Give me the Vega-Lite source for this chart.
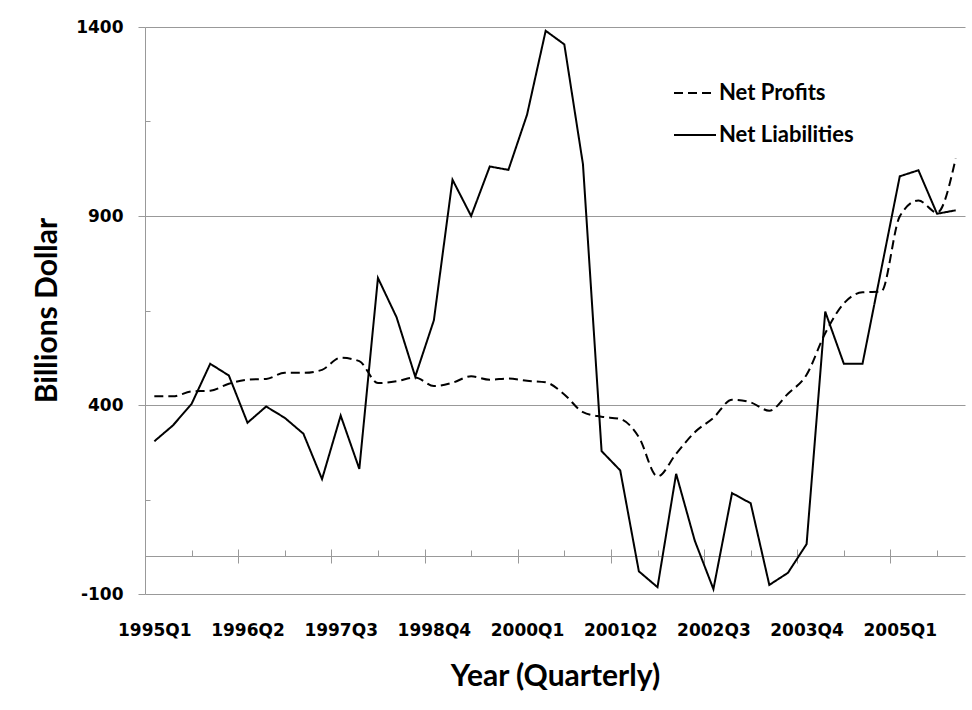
{
  "$schema": "https://vega.github.io/schema/vega-lite/v6.json",
  "width": 820,
  "height": 567,
  "autosize": {"type": "none"},
  "padding": {"left": 145, "top": 27, "right": 7, "bottom": 116},
  "background": "white",
  "config": {"view": {"stroke": null}, "font": "DejaVu Sans"},
  "data": {
    "values": [
      {"quarter": "1995Q1", "profits": 423, "liabilities": 304},
      {"quarter": "1995Q2", "profits": 423, "liabilities": 346},
      {"quarter": "1995Q3", "profits": 436, "liabilities": 403},
      {"quarter": "1995Q4", "profits": 438, "liabilities": 509},
      {"quarter": "1996Q1", "profits": 456, "liabilities": 478},
      {"quarter": "1996Q2", "profits": 467, "liabilities": 353},
      {"quarter": "1996Q3", "profits": 469, "liabilities": 396},
      {"quarter": "1996Q4", "profits": 485, "liabilities": 366},
      {"quarter": "1997Q1", "profits": 485, "liabilities": 324},
      {"quarter": "1997Q2", "profits": 493, "liabilities": 204},
      {"quarter": "1997Q3", "profits": 525, "liabilities": 372},
      {"quarter": "1997Q4", "profits": 516, "liabilities": 231},
      {"quarter": "1998Q1", "profits": 458, "liabilities": 736},
      {"quarter": "1998Q2", "profits": 463, "liabilities": 632},
      {"quarter": "1998Q3", "profits": 473, "liabilities": 475},
      {"quarter": "1998Q4", "profits": 450, "liabilities": 624},
      {"quarter": "1999Q1", "profits": 459, "liabilities": 996},
      {"quarter": "1999Q2", "profits": 476, "liabilities": 900},
      {"quarter": "1999Q3", "profits": 467, "liabilities": 1031},
      {"quarter": "1999Q4", "profits": 470, "liabilities": 1022},
      {"quarter": "2000Q1", "profits": 464, "liabilities": 1168},
      {"quarter": "2000Q2", "profits": 460, "liabilities": 1390},
      {"quarter": "2000Q3", "profits": 428, "liabilities": 1354},
      {"quarter": "2000Q4", "profits": 381, "liabilities": 1037},
      {"quarter": "2001Q1", "profits": 369, "liabilities": 278},
      {"quarter": "2001Q2", "profits": 363, "liabilities": 227},
      {"quarter": "2001Q3", "profits": 315, "liabilities": -40},
      {"quarter": "2001Q4", "profits": 211, "liabilities": -82},
      {"quarter": "2002Q1", "profits": 271, "liabilities": 218},
      {"quarter": "2002Q2", "profits": 328, "liabilities": 41},
      {"quarter": "2002Q3", "profits": 366, "liabilities": -87},
      {"quarter": "2002Q4", "profits": 414, "liabilities": 167},
      {"quarter": "2003Q1", "profits": 407, "liabilities": 140},
      {"quarter": "2003Q2", "profits": 385, "liabilities": -76},
      {"quarter": "2003Q3", "profits": 430, "liabilities": -44},
      {"quarter": "2003Q4", "profits": 480, "liabilities": 32},
      {"quarter": "2004Q1", "profits": 590, "liabilities": 647},
      {"quarter": "2004Q2", "profits": 669, "liabilities": 509},
      {"quarter": "2004Q3", "profits": 698, "liabilities": 509},
      {"quarter": "2004Q4", "profits": 700, "liabilities": 757},
      {"quarter": "2005Q1", "profits": 899, "liabilities": 1005},
      {"quarter": "2005Q2", "profits": 941, "liabilities": 1021},
      {"quarter": "2005Q3", "profits": 909, "liabilities": 906},
      {"quarter": "2005Q4", "profits": 1052, "liabilities": 915}
    ]
  },
  "layer": [
    {
      "mark": {"type": "line", "color": "black", "strokeWidth": 2},
      "encoding": {
        "x": {
          "field": "quarter",
          "type": "ordinal",
          "scale": {"type": "point", "padding": 0.5},
          "axis": {
            "orient": "bottom",
            "values": ["1995Q1", "1996Q2", "1997Q3", "1998Q4", "2000Q1", "2001Q2", "2002Q3", "2003Q4", "2005Q1"],
            "offset": -45,
            "tickSize": 14,
            "tickOffset": -9.318,
            "labelOffset": 9.318,
            "domain": false,
            "grid": false,
            "tickColor": "#999999",
            "tickWidth": 1,
            "labelFont": "DejaVu Sans",
            "labelFontWeight": "bold",
            "labelFontSize": 17,
            "labelColor": "black",
            "labelAngle": 0,
            "labelBaseline": "middle",
            "labelPadding": 67,
            "labelOverlap": false,
            "title": "Year (Quarterly)",
            "titleFont": "Lato",
            "titleFontSize": 30,
            "titleFontWeight": "bold",
            "titleColor": "black",
            "titleBaseline": "middle",
            "titleY": 127
          }
        },
        "y": {
          "field": "liabilities",
          "type": "quantitative",
          "scale": {"domain": [-100, 1400], "nice": false, "zero": false},
          "axis": {
            "orient": "left",
            "values": [-100, 0, 400, 900, 1400],
            "labelExpr": "datum.value === 0 ? '' : '' + datum.value",
            "tickSize": 7,
            "tickOpacity": {"condition": {"test": "datum.value === 0", "value": 0}, "value": 1},
            "grid": true,
            "gridColor": "#999999",
            "gridWidth": 1,
            "domainColor": "#999999",
            "domainWidth": 1,
            "tickColor": "#999999",
            "labelFont": "DejaVu Sans",
            "labelFontWeight": "bold",
            "labelFontSize": 17,
            "labelColor": "black",
            "labelPadding": 15,
            "title": "Billions Dollar",
            "titleFont": "Lato",
            "titleFontSize": 30,
            "titleFontWeight": "bold",
            "titleColor": "black",
            "titleAngle": 270,
            "titleBaseline": "middle",
            "titleX": -98,
            "titleY": 283
          }
        },
        "strokeDash": {
          "datum": "Net Liabilities",
          "type": "nominal",
          "scale": {"domain": ["Net Profits", "Net Liabilities"], "range": [[9, 5], [1, 0]]},
          "legend": {
            "title": null,
            "orient": "none",
            "legendX": 528,
            "legendY": 44,
            "symbolType": "stroke",
            "symbolSize": 1764,
            "symbolStrokeWidth": 2,
            "symbolStrokeColor": "black",
            "labelFont": "Lato",
            "labelFontSize": 22,
            "labelFontWeight": "bold",
            "labelColor": "black",
            "labelOffset": 2,
            "rowPadding": 9,
            "padding": 0
          }
        }
      }
    },
    {
      "mark": {"type": "line", "color": "black", "strokeWidth": 2, "interpolate": "monotone"},
      "encoding": {
        "x": {
          "field": "quarter",
          "type": "ordinal",
          "axis": {
            "orient": "bottom",
            "values": ["1995Q3", "1996Q4", "1998Q1", "1999Q2", "2000Q3", "2001Q4", "2003Q1", "2004Q2", "2005Q3"],
            "offset": -44,
            "tickSize": 6,
            "tickColor": "#999999",
            "domain": false,
            "labels": false,
            "grid": false,
            "title": null
          }
        },
        "y": {
          "field": "profits",
          "type": "quantitative",
          "axis": {
            "orient": "left",
            "values": [150, 650, 1150],
            "offset": -5,
            "tickSize": 5,
            "tickColor": "#999999",
            "domain": false,
            "labels": false,
            "grid": false,
            "title": null
          }
        },
        "strokeDash": {"datum": "Net Profits", "type": "nominal"}
      }
    }
  ],
  "resolve": {"axis": {"x": "independent", "y": "independent"}}
}
